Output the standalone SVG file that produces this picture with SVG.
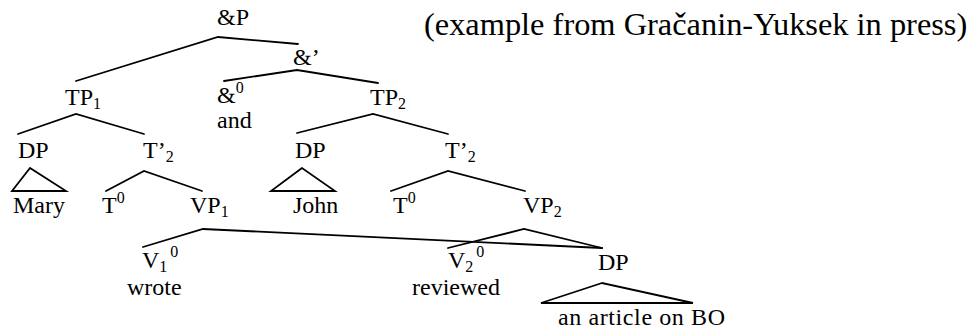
<svg xmlns="http://www.w3.org/2000/svg" width="968" height="333" viewBox="0 0 968 333">
<style>
text{font-family:"Liberation Serif","Times New Roman",serif;font-size:24px;fill:#000}
.t{font-size:32.4px}
.s{font-size:16px}
.e{stroke:#000;stroke-width:1.8;fill:none;stroke-linecap:round;stroke-linejoin:miter}
</style>
<rect width="968" height="333" fill="#fff"/>
<text class="t" x="424" y="35">(example from Gračanin-Yuksek in press)</text>
<g id="edges">
<polyline class="e" points="76,81 218,37 298,44"/>
<polyline class="e" points="224,81 297,70 378,83"/>
<polyline class="e" points="18,134 76,114 144,134"/>
<polyline class="e" points="297,133 373,114 448,134"/>
<polyline class="e" points="106,191 144,171 202,191"/>
<polyline class="e" points="391,191 448,171 525,191"/>
<polyline class="e" points="143,247 203,229 602,248"/>
<polyline class="e" points="448,248 524,229 602,248"/>
</g>
<g id="n-andP"><text x="217" y="25">&amp;P</text></g>
<g id="n-andbar"><text x="293" y="65">&amp;’</text></g>
<g id="n-and0"><text x="217" y="103">&amp;<tspan class="s" dy="-10">0</tspan></text><text x="217" y="128">and</text></g>
<g id="n-TP1"><text x="65" y="105">TP<tspan class="s" dy="4">1</tspan></text></g>
<g id="n-TP2"><text x="370" y="105">TP<tspan class="s" dy="4">2</tspan></text></g>
<g id="n-DP1"><text x="18" y="158">DP</text><polygon class="e" points="30,168 12,191 66,191"/><text x="13" y="213">Mary</text></g>
<g id="n-Tbar1"><text x="143" y="158">T’<tspan class="s" dy="4">2</tspan></text></g>
<g id="n-DP2"><text x="295" y="158">DP</text><polygon class="e" points="302,168 271,191 335,191"/><text x="293" y="213">John</text></g>
<g id="n-Tbar2"><text x="445" y="158">T’<tspan class="s" dy="4">2</tspan></text></g>
<g id="n-T01"><text x="102" y="213">T<tspan class="s" dy="-10">0</tspan></text></g>
<g id="n-VP1"><text x="190" y="213">VP<tspan class="s" dy="4">1</tspan></text></g>
<g id="n-T02"><text x="393" y="213">T<tspan class="s" dy="-10">0</tspan></text></g>
<g id="n-VP2"><text x="523" y="213">VP<tspan class="s" dy="4">2</tspan></text></g>
<g id="n-V1"><text x="142" y="268">V<tspan class="s" dy="4">1</tspan><tspan class="s" dx="3" dy="-15">0</tspan></text><text x="127" y="295">wrote</text></g>
<g id="n-V2"><text x="448" y="268">V<tspan class="s" dy="4">2</tspan><tspan class="s" dx="3" dy="-15">0</tspan></text><text x="412" y="295">reviewed</text></g>
<g id="n-DP3"><text x="598" y="270">DP</text><polygon class="e" points="602,283 541,303 693,303"/><text x="558" y="325" textLength="167">an article on BO</text></g>
</svg>
